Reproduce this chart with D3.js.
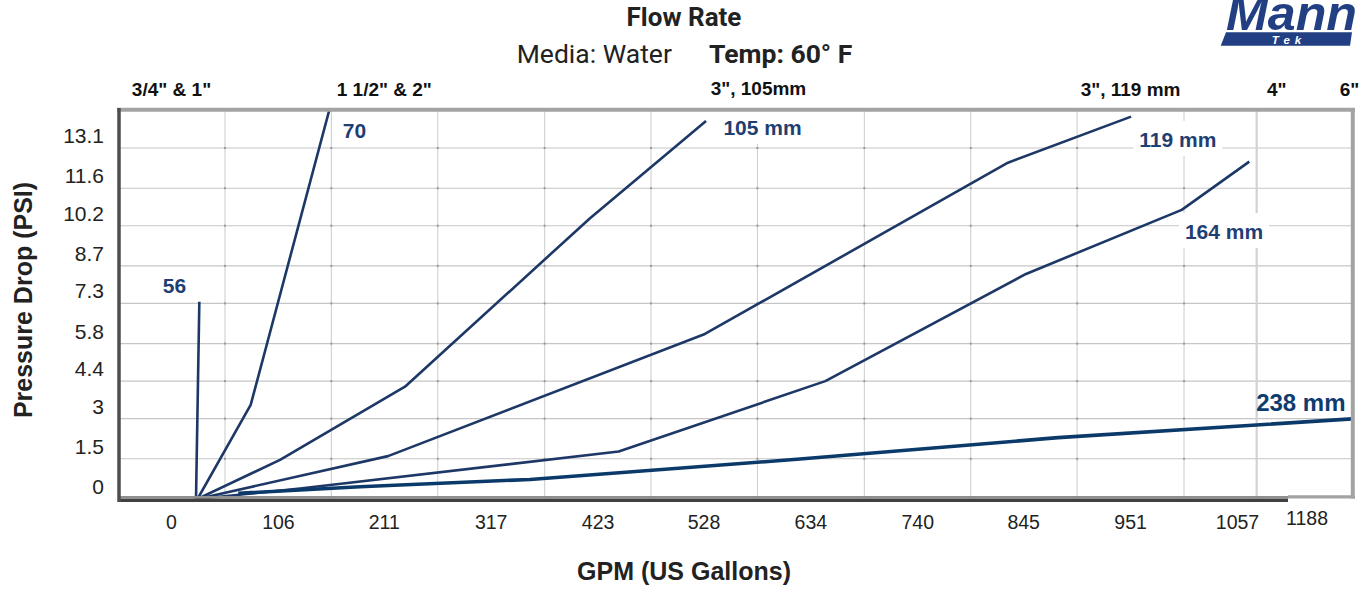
<!DOCTYPE html>
<html><head><meta charset="utf-8">
<script src="https://cdn.jsdelivr.net/npm/d3@7"></script>
<style>
html,body{margin:0;padding:0;background:#fff;}
svg{display:block;}
</style></head>
<body>
<svg id="chart" width="1366" height="590"></svg>
<script>
// ---------- data ----------
const xTickValues = [0, 106, 211, 317, 423, 528, 634, 740, 845, 951, 1057];
const xTickLabels = ["0", "106", "211", "317", "423", "528", "634", "740", "845", "951", "1057"];
const xExtraTickLabel = "1188";
const xExtraTickValue = 1126;
const yTickValues = [0, 1.5, 3, 4.4, 5.8, 7.3, 8.7, 10.2, 11.6, 13.1];
const yTickLabels = ["0", "1.5", "3", "4.4", "5.8", "7.3", "8.7", "10.2", "11.6", "13.1"];
const pipeSizes = ["3/4\" & 1\"", "1 1/2\" & 2\"", "3\", 105mm", "3\", 119 mm", "4\"", "6\""];
const pipeSizeFlow = [0, 211, 582, 951, 1096, 1168];
const dividerFlow = 1076;

const seriesNames = ["56", "70", "105 mm", "119 mm", "164 mm", "238 mm"];
// [GPM, PSI]
const s56  = [[24.3, 0], [27.6, 7.36]];
const s70  = [[25.8, 0], [78.5, 3.51], [156.5, 14.52]];
const s105 = [[25.8, 0], [107.6, 1.46], [231.5, 4.19], [415.0, 10.48], [530.0, 14.11]];
const s119 = [[25.8, 0], [214.7, 1.60], [528.9, 6.16], [829.4, 12.55], [951.5, 14.27]];
const s164 = [[25.8, 0], [127.4, 0.39], [443.4, 1.77], [648.3, 4.40], [847.3, 8.40], [1001.7, 10.79], [1068.7, 12.59]];
const s238 = [[66.2, 0.21], [186.9, 0.46], [355.5, 0.73], [623.2, 1.49], [879.0, 2.29], [1170.6, 2.99]];
const seriesData = [s56, s70, s105, s119, s164, s238];
const labelFlow = [3, 181.5, 586, 997.8, 1043.6, 1119.8];
const labelPsi  = [7.69, 13.47, 13.59, 13.14, 9.70, 3.27];

// ---------- layout ----------
const W = 1366, H = 590;
const plot = {left: 118, right: 1353, top: 110, bottom: 499};
const svg = d3.select("#chart");
const x = d3.scaleLinear().domain([0, 1057]).range([171.5, 1237.5]);
const y = d3.scaleLinear().domain([0, 13.1]).range([499, 148]);
const SANS = "'Liberation Sans', Arial, Helvetica, sans-serif";
const ROBOTO = "Roboto, 'Liberation Sans', Arial, sans-serif";
const navy = "#1d3866";

svg.append("rect").attr("width", W).attr("height", H).attr("fill", "#fff");

svg.append("defs").append("clipPath").attr("id", "plotclip")
  .append("rect").attr("x", plot.left).attr("y", plot.top)
  .attr("width", plot.right - plot.left).attr("height", plot.bottom - plot.top);

// ---------- grid ----------
const grid = svg.append("g");
const gridX = d3.pairs(xTickValues).map(p => (p[0] + p[1]) / 2);
grid.selectAll("line.gx").data(gridX).join("line")
  .attr("x1", d => x(d)).attr("x2", d => x(d))
  .attr("y1", plot.top).attr("y2", plot.bottom)
  .attr("stroke", "#d0d0d0").attr("stroke-width", 1.1);
grid.selectAll("line.gy").data(yTickValues.slice(1)).join("line")
  .attr("x1", plot.left).attr("x2", plot.right)
  .attr("y1", d => y(d)).attr("y2", d => y(d))
  .attr("stroke", "#c6c6c6").attr("stroke-width", 1.1);
grid.append("line")
  .attr("x1", x(dividerFlow)).attr("x2", x(dividerFlow))
  .attr("y1", plot.top).attr("y2", plot.bottom)
  .attr("stroke", "#d2d2d2").attr("stroke-width", 2.2);
// intersection dots
const dots = [];
gridX.forEach(gx => yTickValues.slice(1).forEach(gy => dots.push([gx, gy])));
grid.selectAll("rect.dot").data(dots).join("rect")
  .attr("x", d => x(d[0]) - 1).attr("y", d => y(d[1]) - 1)
  .attr("width", 2).attr("height", 2).attr("fill", "#9a9a9a");

// ---------- line labels (with white backgrounds) ----------
const labelG = svg.append("g");
const labels = labelG.selectAll("text").data(seriesNames).join("text")
  .attr("x", (d, i) => x(labelFlow[i]))
  .attr("y", (d, i) => y(labelPsi[i]))
  .attr("text-anchor", "middle")
  .attr("font-family", SANS).attr("font-weight", "bold")
  .attr("font-size", (d, i) => i === 5 ? 24 : 21)
  .attr("fill", (d, i) => i === 5 ? "#0f3c6e" : "#1f3f73")
  .text(d => d);
labels.each(function (d, i) {
  if (i === 5) return;
  const b = this.getBBox();
  labelG.insert("rect", "text")
    .attr("x", b.x - 6).attr("y", b.y - 7)
    .attr("width", b.width + 12).attr("height", b.height + 12)
    .attr("fill", "#fff");
});

// ---------- series lines ----------
const line = d3.line().x(d => x(d[0])).y(d => y(d[1]));
svg.append("g").attr("clip-path", "url(#plotclip)")
  .selectAll("path").data(seriesData).join("path")
  .attr("d", line)
  .attr("fill", "none")
  .attr("stroke", (d, i) => i === 5 ? "#0b3a6a" : navy)
  .attr("stroke-width", (d, i) => i === 5 ? 3.6 : 2.6)
  .attr("stroke-linejoin", "round");

// ---------- frame ----------
const frame = svg.append("g");
frame.append("line").attr("x1", plot.left - 1).attr("x2", plot.right + 2)
  .attr("y1", 109.7).attr("y2", 109.7).attr("stroke", "#a3a3a3").attr("stroke-width", 4);
frame.append("line").attr("x1", 1352.8).attr("x2", 1352.8)
  .attr("y1", 108).attr("y2", 498.5).attr("stroke", "#a3a3a3").attr("stroke-width", 4);
frame.append("line").attr("x1", 1288).attr("x2", 1355)
  .attr("y1", 496.8).attr("y2", 496.8).attr("stroke", "#a3a3a3").attr("stroke-width", 3.3);
frame.append("line").attr("x1", plot.left).attr("x2", 1288)
  .attr("y1", 497.3).attr("y2", 497.3).attr("stroke", "#8f8f8f").attr("stroke-width", 2.8);
frame.append("line").attr("x1", plot.left).attr("x2", 1288)
  .attr("y1", 500.4).attr("y2", 500.4).attr("stroke", "#404040").attr("stroke-width", 3.3);
frame.append("line").attr("x1", 119).attr("x2", 119)
  .attr("y1", 108).attr("y2", 502).attr("stroke", "#4e4e4e").attr("stroke-width", 3.5);

// ---------- axes text ----------
svg.append("g").selectAll("text").data(yTickValues).join("text")
  .attr("x", 104).attr("y", d => y(d) - 5)
  .attr("text-anchor", "end")
  .attr("font-family", SANS).attr("font-size", 21).attr("fill", "#222")
  .text((d, i) => yTickLabels[i]);

svg.append("g").selectAll("text").data(xTickValues).join("text")
  .attr("x", d => x(d)).attr("y", 528.5)
  .attr("text-anchor", "middle")
  .attr("font-family", SANS).attr("font-size", 19.5).attr("fill", "#222")
  .text((d, i) => xTickLabels[i]);
svg.append("text")
  .attr("x", x(xExtraTickValue)).attr("y", 525)
  .attr("text-anchor", "middle")
  .attr("font-family", SANS).attr("font-size", 19.5).attr("fill", "#222")
  .text(xExtraTickLabel);

svg.append("g").selectAll("text").data(pipeSizes).join("text")
  .attr("x", (d, i) => x(pipeSizeFlow[i])).attr("y", (d, i) => i === 2 ? 94.5 : 96)
  .attr("text-anchor", "middle")
  .attr("font-family", SANS).attr("font-weight", "bold").attr("font-size", 19).attr("fill", "#111")
  .text(d => d);

svg.append("text")
  .attr("x", 684).attr("y", 580)
  .attr("text-anchor", "middle")
  .attr("font-family", SANS).attr("font-weight", "bold").attr("font-size", 25).attr("fill", "#222")
  .text("GPM (US Gallons)");
svg.append("text")
  .attr("transform", "translate(32,300) rotate(-90)")
  .attr("text-anchor", "middle")
  .attr("font-family", SANS).attr("font-weight", "bold").attr("font-size", 25).attr("fill", "#222")
  .text("Pressure Drop (PSI)");

// ---------- titles ----------
svg.append("text")
  .attr("x", 684).attr("y", 26)
  .attr("text-anchor", "middle")
  .attr("font-family", ROBOTO).attr("font-weight", "bold").attr("font-size", 26).attr("fill", "#222")
  .text("Flow Rate");
const sub = svg.append("text").attr("y", 62.7)
  .attr("font-family", ROBOTO).attr("font-size", 26.5).attr("fill", "#222");
sub.append("tspan").attr("x", 516.7).text("Media: Water");
sub.append("tspan").attr("x", 709).attr("font-weight", "bold").text("Temp: 60° F");

// ---------- logo ----------
const logo = svg.append("g");
logo.append("text")
  .attr("x", 1226).attr("y", 30)
  .attr("font-family", SANS).attr("font-weight", "bold").attr("font-style", "italic")
  .attr("font-size", 49).attr("fill", "#213f82")
  .attr("textLength", 131).attr("lengthAdjust", "spacingAndGlyphs")
  .text("Mann");
logo.append("path")
  .attr("d", "M1226,32.3 L1352,32.3 L1350,45.7 L1220.7,45.7 Z")
  .attr("fill", "#213f82");
logo.append("text")
  .attr("x", 1289).attr("y", 43.6)
  .attr("text-anchor", "middle")
  .attr("font-family", SANS).attr("font-weight", "bold").attr("font-style", "italic")
  .attr("font-size", 11.5).attr("letter-spacing", 5).attr("fill", "#fff")
  .text("Tek");
</script>
</body></html>
